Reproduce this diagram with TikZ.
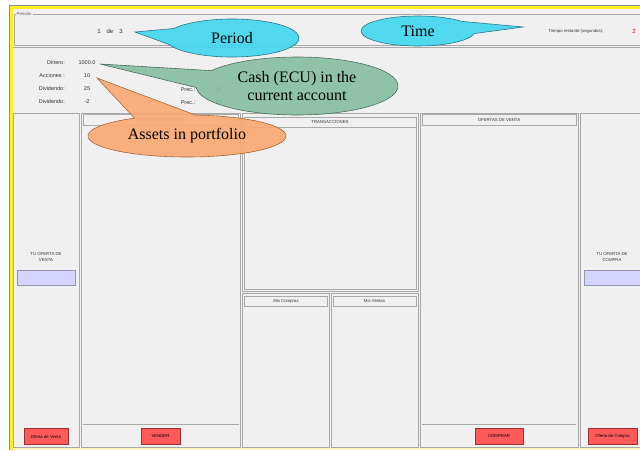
\documentclass[tikz,border=0pt]{standalone}
\usepackage{fontspec}
\setmainfont{Liberation Serif}
\setsansfont{Liberation Sans}
\usetikzlibrary{calc,positioning}
\definecolor{uibg}{HTML}{F0F0F0}
\definecolor{uitext}{HTML}{333333}
\definecolor{paneledge}{HTML}{A9A9A9}
\definecolor{framegray}{HTML}{8C8C8C}
\definecolor{uiyellow}{HTML}{FFEE22}
\definecolor{paleyellow}{HTML}{FBF6C8}
\definecolor{btnred}{HTML}{FF5A5A}
\definecolor{btnedge}{HTML}{9A3030}
\definecolor{entryfill}{HTML}{D4D4FF}
\definecolor{entryedge}{HTML}{9494AA}
\definecolor{bubblecyan}{HTML}{3FD7EE}
\definecolor{cyanedge}{HTML}{2B7688}
\definecolor{bubblegreen}{HTML}{85BEA1}
\definecolor{greenedge}{HTML}{4C6F5E}
\definecolor{bubbleorange}{HTML}{FAA771}
\definecolor{orangeedge}{HTML}{A8693A}

\begin{document}
\begin{tikzpicture}[x=1pt, y=-1pt,
    ui/.style={font=\sffamily\fontsize{5}{6}\selectfont, text=uitext, inner sep=0pt},
    uismall/.style={ui, font=\sffamily\fontsize{4.3}{5.2}\selectfont},
    uilabel/.style={ui, font=\sffamily\fontsize{5.5}{6.5}\selectfont},
    panel/.style={draw=paneledge, line width=0.9pt},
    headrow/.style={draw=paneledge, line width=0.6pt},
    btn/.style={uismall, text=black, draw=btnedge, fill=btnred, line width=0.7pt,
      minimum height=16pt},
    entry/.style={draw=entryedge, fill=entryfill, line width=0.6pt,
      minimum width=58pt, minimum height=15pt},
    bubble/.style={line width=0.6pt, fill opacity=0.9},
    bubbletext/.style={font=\fontsize{16}{18}\selectfont, text=black, align=center, inner sep=0pt}
  ]
  \useasboundingbox (0,0) rectangle (640,450);
  \clip (0,0) rectangle (640,450);

  % window and frame
  \fill[white] (0,0) rectangle (640,450);
  \fill[uibg] (11,6) rectangle (640,448);
  \draw[framegray, line width=0.6pt] (9,450) -- (9,5) -- (640,5);
  \fill[uiyellow] (10,6) rectangle (640,8.5);
  \fill[uiyellow] (10,6) rectangle (13,450);
  \fill[paleyellow] (13,447.5) rectangle (640,450);

  % period box
  \draw[paneledge, line width=0.6pt] (14.5,14) rectangle (645,45);
  \node[uismall, anchor=west, fill=uibg, inner xsep=1pt, text=uitext!80] (periodolbl) at (15.5,14) {Periodo};
  \node[ui, font=\sffamily\fontsize{6}{7}\selectfont] (periodnum) at (110,31) {1\hspace{6pt}de\hspace{6pt}3};
  \node[uismall] (tiempolbl) at (576,31) {Tiempo restante (segundos):};
  \node[ui, font=\sffamily\fontsize{6}{7}\selectfont, text=red] (tiempoval) at (634,31) {2};
  \draw[paneledge, line width=0.6pt] (13,47.5) -- (645,47.5);

  % account info
  \node[uilabel, anchor=east] (dinerolbl) at (65,63) {Dinero:};
  \node[uilabel, anchor=east] (accioneslbl) at (65,76) {Acciones :};
  \node[uilabel, anchor=east] (dividendolbl) at (65,89) {Dividendo:};
  \node[uilabel, anchor=east] (dividendolbl2) at (65,102) {Dividendo:};
  \node[uilabel] (dineroval) at (87,63) {1000.0};
  \node[uilabel] (accionesval) at (87,76) {10};
  \node[uilabel] (dividendoval) at (87,89) {25};
  \node[uilabel] (dividendoval2) at (87,102) {-2};
  \node[uilabel] (preclbl) at (188,90) {Prec.:};
  \node[uilabel] (preclbl2) at (188,103) {Prec.:};
  \node[uilabel] (precval) at (219,90) {30};
  \node[uilabel] (precval2) at (219,103) {50};

  % panels
  \draw[panel] (13.5,113) rectangle (79.5,447);
  \draw[panel] (81.5,113) rectangle (240,447);
  \draw[headrow] (83,114.5) rectangle (238.5,125.5);
  \draw[headrow] (83,424) -- (238.5,424);
  \draw[panel] (242,113) rectangle (418,291);
  \draw[headrow] (244,117) rectangle (416,127.5);
  \draw[headrow] (244,127.5) rectangle (416,289);
  \draw[panel] (242,293) rectangle (329.5,447);
  \draw[headrow] (244,296) rectangle (327.5,306);
  \draw[panel] (331,293) rectangle (418,447);
  \draw[headrow] (333,296) rectangle (416,306);
  \draw[panel] (420,113) rectangle (578,447);
  \draw[headrow] (422,114.5) rectangle (576,125.5);
  \draw[headrow] (422,424) -- (576,424);
  \draw[panel] (580,113) rectangle (650,447);

  \node[uismall] (comprahead) at (160.5,120) {OFERTAS DE COMPRA};
  \node[uismall] (transhead) at (330,122.3) {TRANSACCIONES};
  \node[uismall] (miscompras) at (286,301) {Mis Compras};
  \node[uismall] (misventas) at (374.5,301) {Mis Ventas};
  \node[uismall] (ventahead) at (499,120) {OFERTAS DE VENTA};

  \node[uismall, align=center] (tuventa) at (46,257) {TU OFERTA DE\\VENTA};
  \node[entry] (ventaentry) at (46,278) {};
  \node[uismall, align=center] (tucompra) at (612,257) {TU OFERTA DE\\COMPRA};
  \node[entry] (compraentry) at (613,278) {};

  \node[btn, minimum width=44pt] (ofertaventa) at (46,436.5) {Oferta de Venta};
  \node[btn, minimum width=39pt] (vender) at (160.5,436.5) {VENDER};
  \node[btn, minimum width=48pt] (comprar) at (499,436.5) {COMPRAR};
  \node[btn, minimum width=49pt] (ofertacompra) at (612.5,436.5) {Oferta de Compra};

  % callouts
  \coordinate (assetsc) at (187,136);
  \coordinate (assetstip) at (97,78);
  \filldraw[bubble, fill=bubbleorange, draw=orangeedge] (assetstip)
    -- ($(assetsc)+(122:99pt and 21pt)$) arc[start angle=122, end angle=445, x radius=99pt, y radius=21pt] -- cycle;
  \node[bubbletext] (assetstxt) at (assetsc) {Assets in portfolio};

  \coordinate (cashc) at (297,86);
  \coordinate (cashtip) at (100,64);
  \filldraw[bubble, fill=bubblegreen, draw=greenedge] (cashtip)
    -- ($(cashc)+(148:101pt and 29pt)$) arc[start angle=148, end angle=-177, x radius=101pt, y radius=29pt] -- cycle;
  \node[bubbletext] (cashtxt) at (cashc) {Cash (ECU) in the\\current account};

  \coordinate (periodc) at (232,38);
  \coordinate (periodtip) at (135,32);
  \filldraw[bubble, fill=bubblecyan, draw=cyanedge] (periodtip)
    -- ($(periodc)+(150:67pt and 19pt)$) arc[start angle=150, end angle=-160, x radius=67pt, y radius=19pt] -- cycle;
  \node[bubbletext] (periodtxt) at (periodc) {Period};

  \coordinate (timec) at (418,31);
  \coordinate (timetip) at (523,27);
  \filldraw[bubble, fill=bubblecyan, draw=cyanedge] (timetip)
    -- ($(timec)+(40:57pt and 15pt)$) arc[start angle=40, end angle=350, x radius=57pt, y radius=15pt] -- cycle;
  \node[bubbletext] (timetxt) at (timec) {Time};
\end{tikzpicture}
\end{document}
